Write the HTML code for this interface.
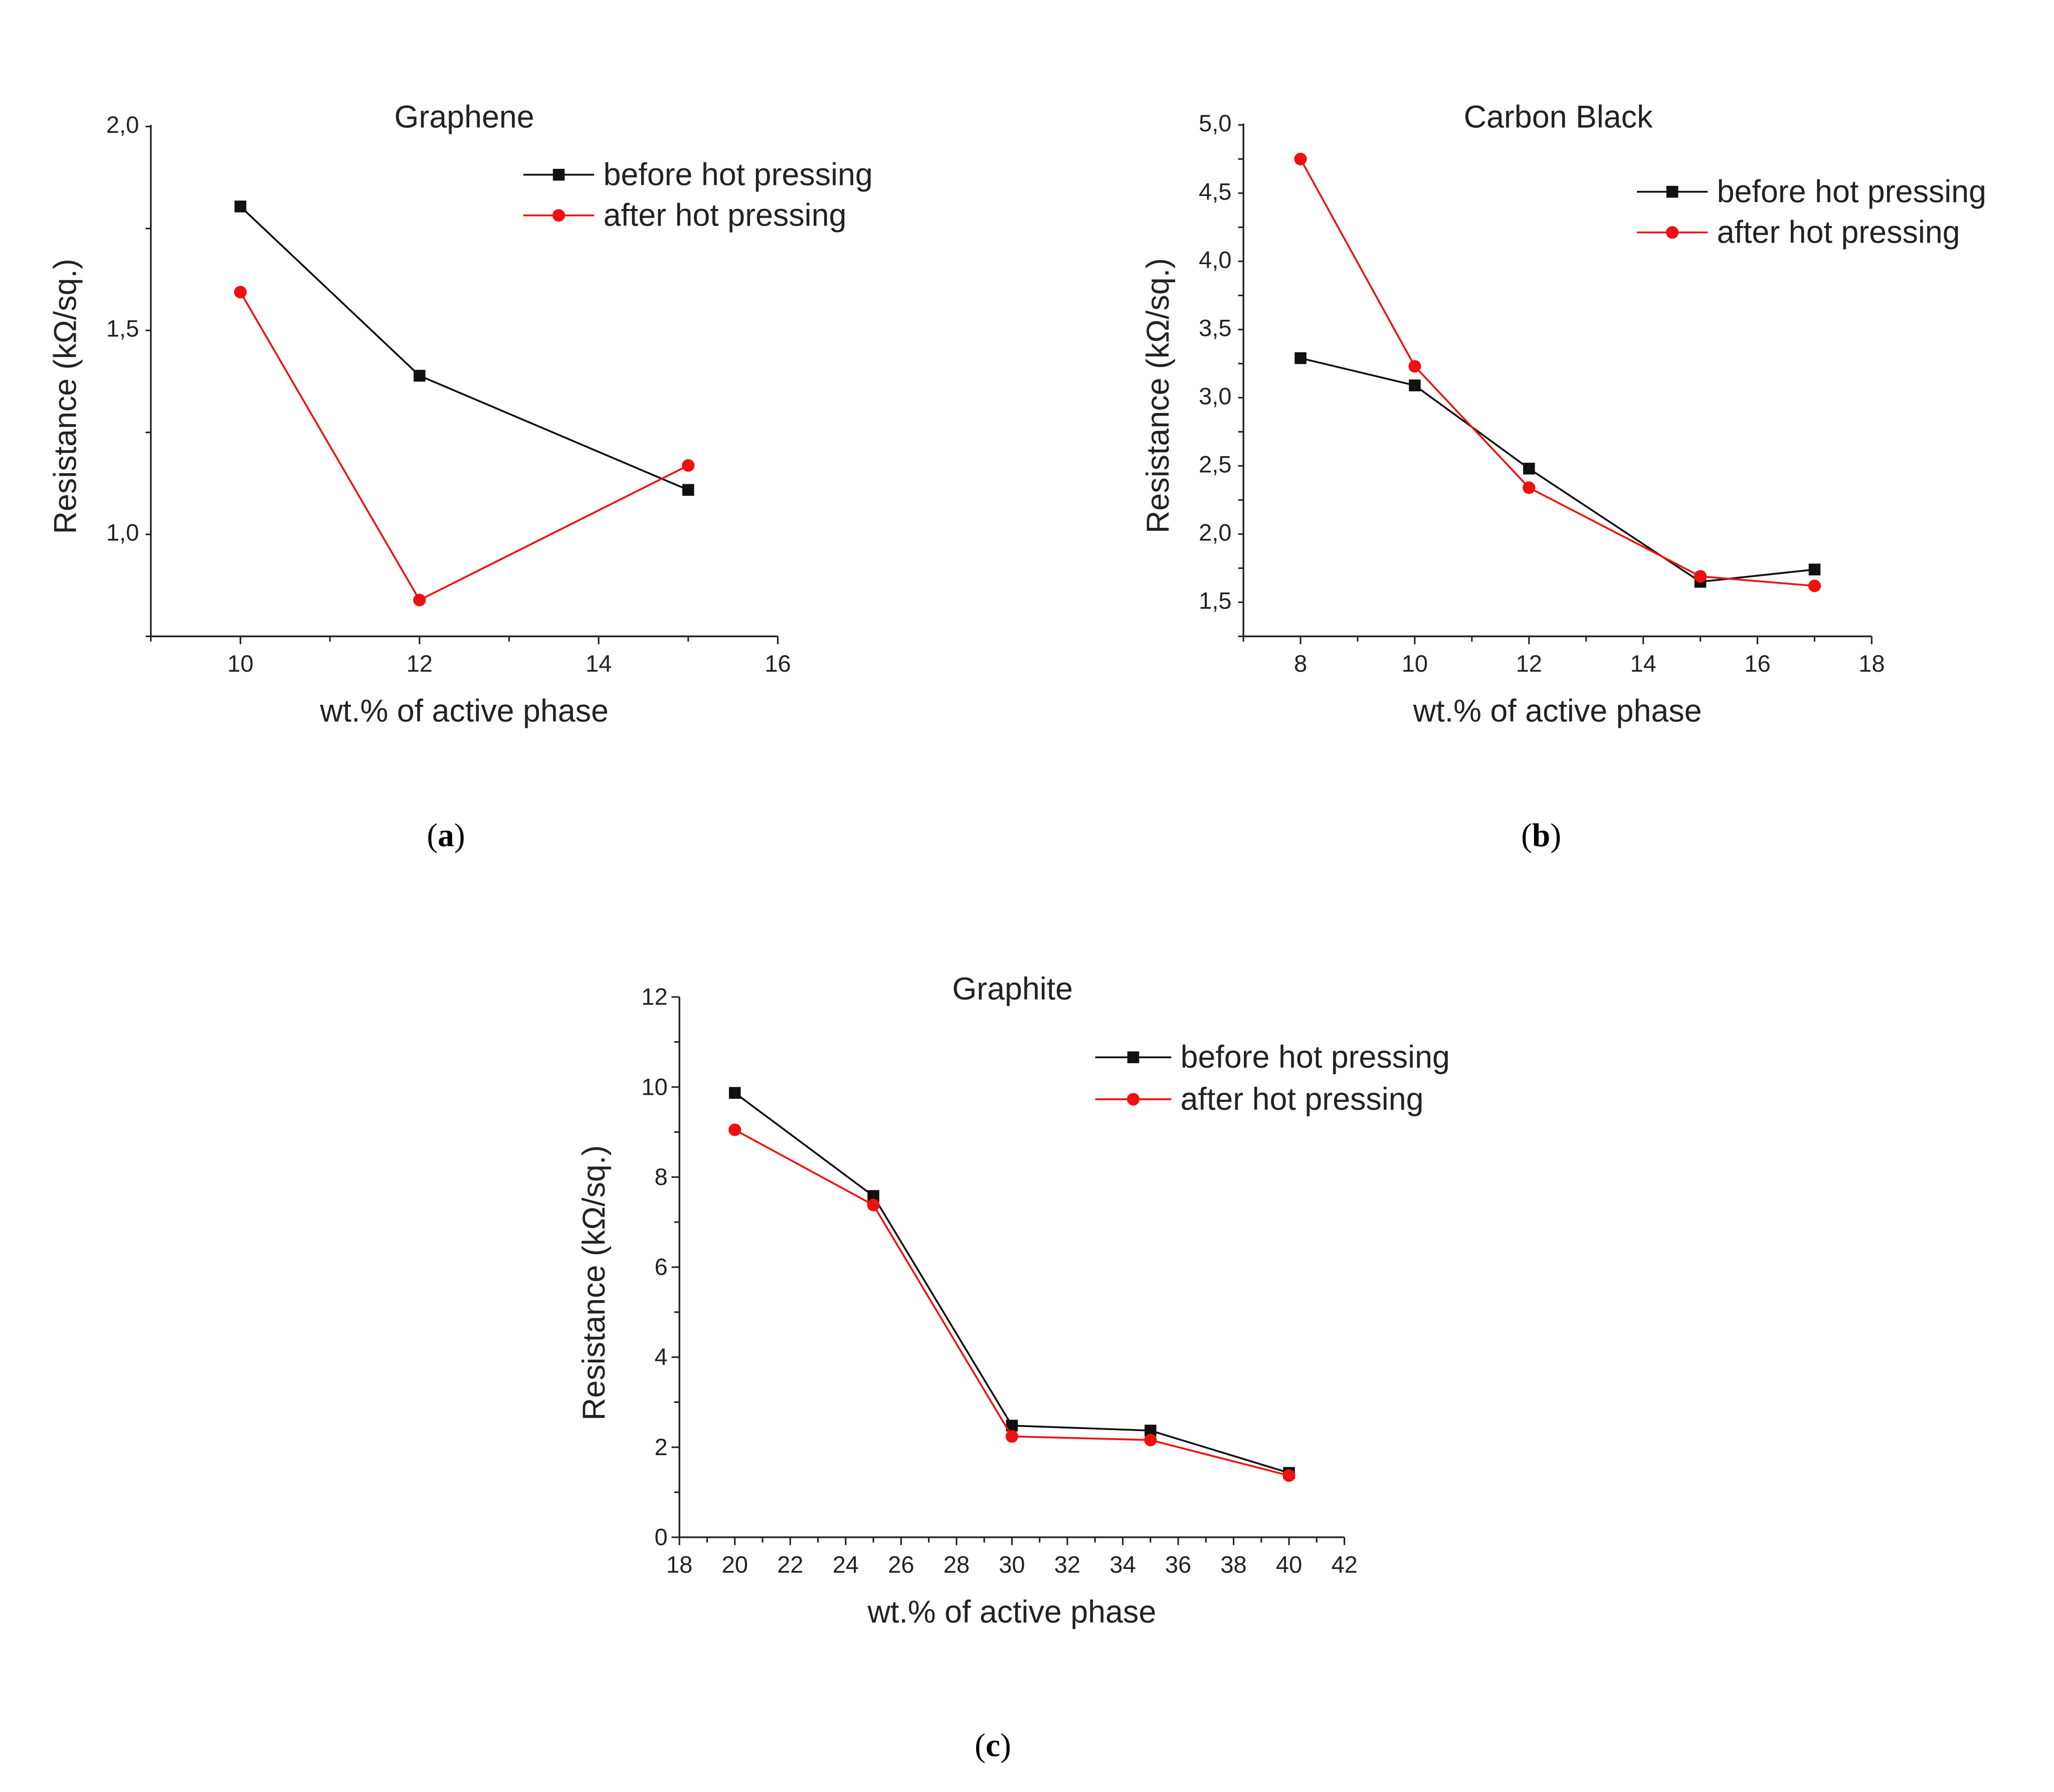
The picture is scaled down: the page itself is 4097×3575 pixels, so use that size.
<!DOCTYPE html>
<html><head><meta charset="utf-8"><style>
html,body{margin:0;padding:0;background:#fff;}
svg{display:block;}
text{font-family:"Liberation Sans",sans-serif;fill:#222;}
.cap{font-family:"Liberation Serif",serif;font-size:25px;fill:#000;}
</style></head><body>
<svg id="fig" xmlns="http://www.w3.org/2000/svg" width="4097" height="3575" viewBox="0 0 1566 1366">
<rect width="1566" height="1366" fill="#fff"/>
<text class="cap" x="340" y="645" text-anchor="middle">(<tspan font-weight="bold">a</tspan>)</text>
<text class="cap" x="1175" y="645" text-anchor="middle">(<tspan font-weight="bold">b</tspan>)</text>
<text class="cap" x="757" y="1339" text-anchor="middle">(<tspan font-weight="bold">c</tspan>)</text>
</svg>
<script>
// Graphene
const catA=[10,12,15];
const beforeA=[1.80,1.385,1.105];
const afterA=[1.59,0.835,1.165];
const xTicksA=[10,12,14,16];
const yTicksA=[1.0,1.5,2.0];
// Carbon Black
const catB=[8,10,12,15,17];
const beforeB=[3.28,3.08,2.47,1.64,1.73];
const afterB=[4.74,3.22,2.33,1.68,1.61];
const xTicksB=[8,10,12,14,16,18];
const yTicksB=[1.5,2.0,2.5,3.0,3.5,4.0,4.5,5.0];
// Graphite
const catC=[20,25,30,35,40];
const beforeC=[9.87,7.58,2.48,2.37,1.43];
const afterC=[9.05,7.38,2.24,2.16,1.37];
const xTicksC=[18,20,22,24,26,28,30,32,34,36,38,40,42];
const yTicksC=[0,2,4,6,8,10,12];

const NS="http://www.w3.org/2000/svg";
const svg=document.getElementById('fig');
function el(tag,attrs,parent){const e=document.createElementNS(NS,tag);for(const k in attrs)e.setAttribute(k,attrs[k]);(parent||svg).appendChild(e);return e;}

function chart(o){
  const g=el('g',{});
  
  
  const sx=v=>o.x0+(v-o.xmin)/(o.xmax-o.xmin)*(o.x1-o.x0);
  const sy=v=>o.y0-(v-o.ymin)/(o.ymax-o.ymin)*(o.y0-o.y1);
  const ax=el('path',{d:`M${o.x0},${o.y1} V${o.y0} H${o.x1}`,stroke:'#222','stroke-width':1.3,fill:'none'},g);
  
  
  for(let v=o.xmin;v<=o.xmax+1e-9;v+=o.xminor){
    const major=o.xTicks.some(t=>Math.abs(t-v)<1e-6);
    el('line',{x1:sx(v),x2:sx(v),y1:o.y0,y2:o.y0+(major?6:4),stroke:'#222','stroke-width':1.2},g);
  }
  o.xTicks.forEach(t=>{const tx=el('text',{x:sx(t),y:o.y0+27,'text-anchor':'middle','font-size':18},g);tx.textContent=t;
    
    });
  for(let v=o.ymin;v<=o.ymax+1e-9;v+=o.yminor){
    const major=o.yTicks.some(t=>Math.abs(t-v)<1e-6);
    el('line',{x1:o.x0,x2:o.x0-(major?6:4),y1:sy(v),y2:sy(v),stroke:'#222','stroke-width':1.2},g);
  }
  o.yTicks.forEach(t=>{const tx=el('text',{x:o.x0-9,y:sy(t)+6,'text-anchor':'end','font-size':18},g);tx.textContent=o.fmt(t);
    
    });
  const ti=el('text',{x:o.tx,y:o.ty,'text-anchor':'middle','font-size':24},g);ti.textContent=o.title;
  
  
  const xt=el('text',{x:(o.x0+o.x1)/2,y:o.y0+65,'text-anchor':'middle','font-size':24},g);xt.textContent='wt.% of active phase';
  
  
  const ycx=o.x0-57, ycy=(o.y0+o.y1)/2+12;
  const yt=el('text',{x:ycx,y:ycy,'text-anchor':'middle','font-size':24,transform:`rotate(-90 ${ycx} ${ycy})`},g);yt.textContent='Resistance (kΩ/sq.)';
  
  
  function series(vals,color,sq,name){
    const pl=el('polyline',{points:o.cat.map((c,i)=>sx(c)+','+sy(vals[i])).join(' '),fill:'none',stroke:color,'stroke-width':1.4},g);
    
    
    o.cat.forEach((c,i)=>{
      const m=sq?el('rect',{x:sx(c)-4.5,y:sy(vals[i])-4.5,width:9,height:9,fill:color},g):el('circle',{cx:sx(c),cy:sy(vals[i]),r:4.8,fill:color},g);
      
      
    });
  }
  series(o.before,'#111',true,'before-hot-pressing');
  series(o.after,'#f01010',false,'after-hot-pressing');
  [['before hot pressing','#111',true,0],['after hot pressing','#f01010',false,1]].forEach(([lab,c,sq,i])=>{
    const y=o.ly+i*o.lgap;
    const lg=el('g',{},g);
    
    
    el('line',{x1:o.lx,x2:o.lx+o.lw,y1:y,y2:y,stroke:c,'stroke-width':1.4},lg);
    if(sq)el('rect',{x:o.lx+o.lw/2-4.5,y:y-4.5,width:9,height:9,fill:c},lg);
    else el('circle',{cx:o.lx+o.lw/2,cy:y,r:4.8,fill:c},lg);
    const t=el('text',{x:o.lx+o.lw+7,y:y+8,'font-size':24},lg);t.textContent=lab;
  });
}
const comma=d=>v=>v.toFixed(d).replace('.',',');
chart({name:'graphene-chart',title:'Graphene',tx:354,ty:97,x0:115,x1:593,y0:485,y1:95,xmin:9,xmax:16,ymin:0.746,ymax:2.0,
  xminor:1,yminor:0.25,xTicks:xTicksA,yTicks:yTicksA,fmt:comma(1),cat:catA,before:beforeA,after:afterA,lx:399,lw:54,ly:133,lgap:31});
chart({name:'carbon-black-chart',title:'Carbon Black',tx:1188,ty:97,x0:948,x1:1427,y0:485,y1:94,xmin:7,xmax:18,ymin:1.24,ymax:5.0,
  xminor:1,yminor:0.25,xTicks:xTicksB,yTicks:yTicksB,fmt:comma(1),cat:catB,before:beforeB,after:afterB,lx:1248,lw:54,ly:146,lgap:31});
chart({name:'graphite-chart',title:'Graphite',tx:772,ty:762,x0:518,x1:1025,y0:1172,y1:760,xmin:18,xmax:42,ymin:0,ymax:12,
  xminor:1,yminor:1,xTicks:xTicksC,yTicks:yTicksC,fmt:v=>String(v),cat:catC,before:beforeC,after:afterC,lx:835,lw:58,ly:806,lgap:32});
</script>
</body></html>
